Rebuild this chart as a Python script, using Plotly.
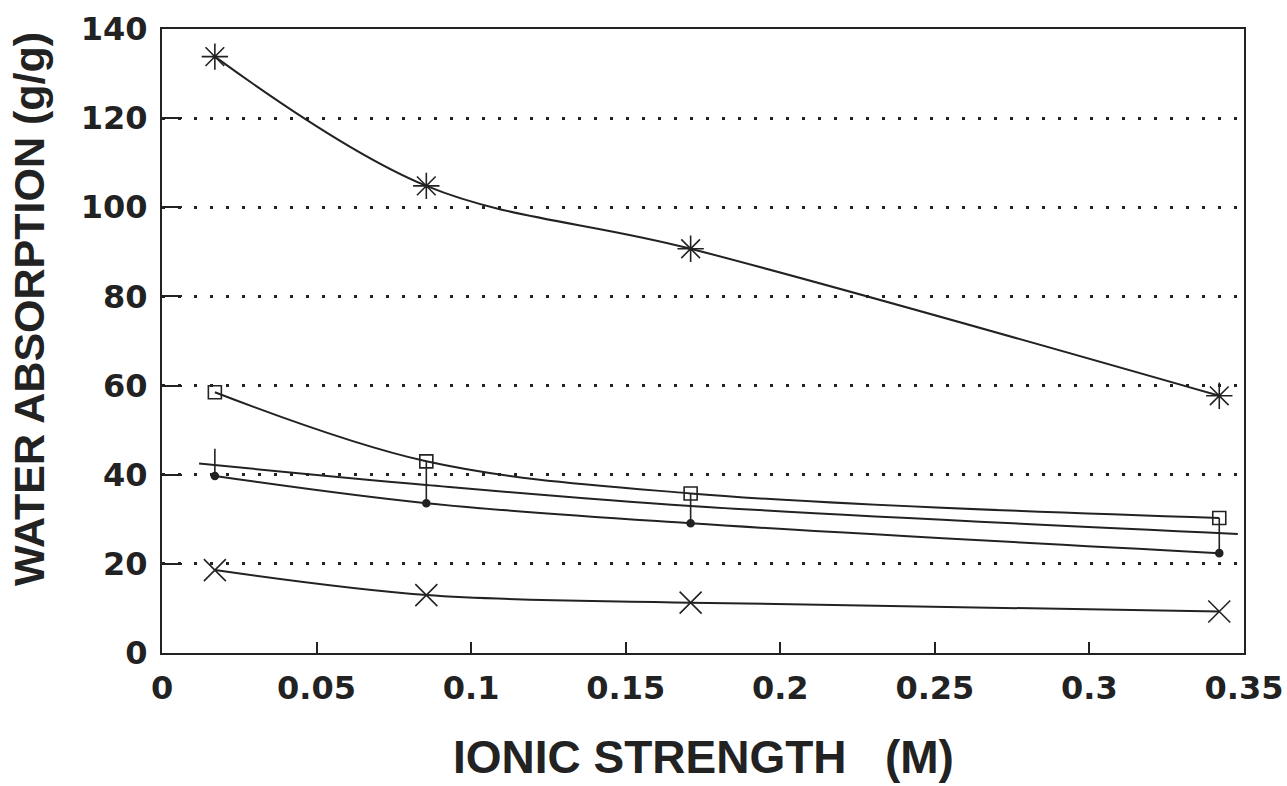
import plotly.graph_objects as go

# ---- data ----
ionic = [0.0171, 0.0855, 0.171, 0.342]
s_star = [133.8, 104.8, 90.7, 57.7]
s_square = [58.5, 43.0, 35.8, 30.3]
s_dot = [39.7, 33.6, 29.1, 22.4]
s_cross = [18.6, 13.0, 11.3, 9.3]
fit_x = [0.012, 0.0855, 0.171, 0.348]
fit_y = [42.5, 37.7, 33.0, 26.7]
bar_top = [45.8, 43.0, 35.8, 30.3]

x_ticks = [0, 0.05, 0.1, 0.15, 0.2, 0.25, 0.3, 0.35]
x_ticktext = ["0", "0.05", "0.1", "0.15", "0.2", "0.25", "0.3", "0.35"]
y_ticks = [0, 20, 40, 60, 80, 100, 120, 140]

INK = "#222222"
fig = go.Figure()

def curve(x, y, symbol=None, size=10, mode="lines+markers"):
    marker = dict(symbol=symbol, size=size, color=INK,
                  line=dict(color=INK, width=1.6)) if symbol else None
    fig.add_trace(go.Scatter(x=x, y=y, mode=mode,
                             line=dict(color=INK, width=2, shape="spline", smoothing=1.0),
                             marker=marker, showlegend=False, cliponaxis=False))

# vertical connector segments
vx, vy = [], []
for xi, t, b in zip(ionic, bar_top, s_dot):
    vx += [xi, xi, None]
    vy += [t, b, None]
fig.add_trace(go.Scatter(x=vx, y=vy, mode="lines", line=dict(color=INK, width=1.6), showlegend=False))

curve(fit_x, fit_y, mode="lines")
curve(ionic, s_star, "asterisk-open", 22)
curve(ionic, s_square, "square-open", 13)
curve(ionic, s_dot, "circle", 7)
curve(ionic, s_cross, "x-thin-open", 22)

tickfont = dict(family="DejaVu Sans", size=32, weight="bold", color=INK)
fig.update_layout(
    width=1287, height=786,
    margin=dict(l=162, r=43, t=29, b=133),
    paper_bgcolor="white", plot_bgcolor="white",
    font=dict(family="DejaVu Sans", color=INK),
    xaxis=dict(range=[0, 0.35], tickvals=x_ticks, ticktext=x_ticktext, automargin=False,
               ticks="inside", ticklen=11, tickwidth=2, tickcolor=INK,
               showline=True, linewidth=2, linecolor=INK, mirror=True,
               showgrid=False, zeroline=False, ticklabelstandoff=6,
               tickfont=tickfont),
    yaxis=dict(range=[0, 140], tickvals=y_ticks, automargin=False,
               ticks="inside", ticklen=20, tickwidth=2, tickcolor=INK,
               showline=True, linewidth=2, linecolor=INK, mirror=True,
               showgrid=True, gridcolor=INK, gridwidth=2.5, griddash="3px,13px",
               zeroline=False, ticklabelstandoff=6,
               tickfont=tickfont),
    annotations=[
        dict(text="IONIC STRENGTH &nbsp; (M)", xref="paper", yref="paper", x=0.5, y=-0.167,
             xanchor="center", yanchor="middle", showarrow=False,
             font=dict(family="Liberation Sans", size=46, weight="bold", color=INK)),
        dict(text="WATER ABSORPTION (g/g)", xref="paper", yref="paper", x=-0.123, y=0.551,
             xanchor="center", yanchor="middle", textangle=-90, showarrow=False,
             font=dict(family="Liberation Sans", size=43, weight="bold", color=INK)),
    ],
)

fig.write_html("out.html")
